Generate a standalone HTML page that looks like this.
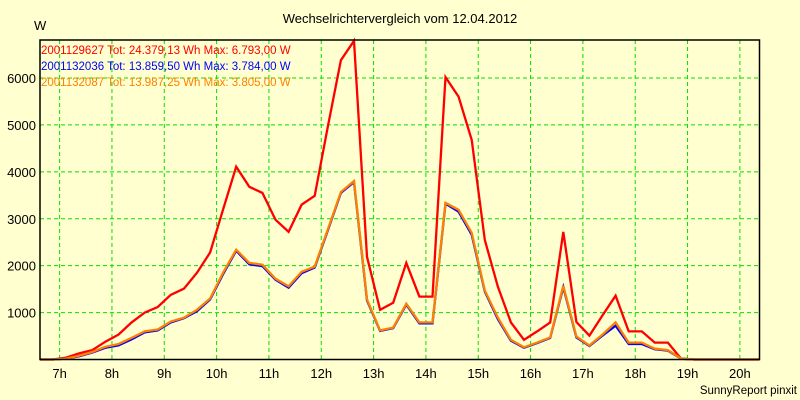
<!DOCTYPE html>
<html><head><meta charset="utf-8"><style>
body{margin:0;background:#ffffd0;}
svg{display:block;font-family:"Liberation Sans",sans-serif;}
</style></head><body>
<svg id="chart" width="800" height="400" viewBox="0 0 800 400">
<rect x="0" y="0" width="800" height="400" fill="#ffffd0"/>
<text x="400" y="23" font-size="13" text-anchor="middle" fill="#000">Wechselrichtervergleich vom 12.04.2012</text>
<text x="34" y="30" font-size="13" fill="#000">W</text>
<g id="grid"></g>
<g id="yticks"></g>
<g id="xticks"></g>
<g id="series"></g>
<rect x="40" y="40" width="719.5" height="319.5" fill="none" stroke="#000" stroke-width="1.5"/>
<g font-size="11.5">
<text x="41" y="54" fill="#ff0000">2001129627 Tot: 24.379,13 Wh Max: 6.793,00 W</text>
<text x="41" y="70" fill="#0000ff">2001132036 Tot: 13.859,50 Wh Max: 3.784,00 W</text>
<text x="41" y="86" fill="#ff8000">2001132087 Tot: 13.987,25 Wh Max: 3.805,00 W</text>
</g>
<text x="797" y="394" font-size="11.5" text-anchor="end" fill="#000">SunnyReport pinxit</text>
</svg>
<script>
const xTickLabels=["7h","8h","9h","10h","11h","12h","13h","14h","15h","16h","17h","18h","19h","20h"];
const xTickHours=[7,8,9,10,11,12,13,14,15,16,17,18,19,20];
const yTickValues=[1000,2000,3000,4000,5000,6000];
const startHour=6.625;
const stepHours=0.25;
const redValues=[0,0,40,130,200,380,530,790,1000,1120,1380,1510,1850,2280,3200,4110,3680,3550,2980,2720,3300,3490,4960,6380,6793,2190,1060,1210,2060,1340,1340,6020,5600,4680,2550,1550,790,420,600,790,2720,800,510,940,1360,600,600,360,360,20,0,0,0,0,0,0];
const blueValues=[0,0,20,70,150,250,300,430,580,620,790,880,1030,1280,1820,2320,2030,1990,1700,1530,1840,1960,2750,3550,3784,1260,610,670,1170,770,770,3320,3150,2660,1450,860,400,250,350,460,1540,470,290,510,720,330,330,220,190,20,0,0,0,0,0,0];
const orangeValues=[0,0,20,80,160,270,330,460,600,640,810,890,1060,1300,1850,2340,2060,2020,1720,1560,1870,1980,2770,3570,3805,1280,620,680,1190,790,790,3340,3190,2700,1470,890,420,260,360,470,1570,490,300,530,790,360,360,230,200,20,0,0,0,0,0,0];
const X0=40,X1=759.5,Y0=359.5,Y1=40,TMIN=6.625,TMAX=20.375,VMAX=6810;
const ns="http://www.w3.org/2000/svg";
function xs(t){return X0+(t-TMIN)/(TMAX-TMIN)*(X1-X0);}
function ys(v){return Y0-v/VMAX*(Y0-Y1);}
function mk(tag,attrs,parent){const e=document.createElementNS(ns,tag);for(const k in attrs)e.setAttribute(k,attrs[k]);parent.appendChild(e);return e;}
const grid=document.getElementById('grid'),yt=document.getElementById('yticks'),xt=document.getElementById('xticks'),sg=document.getElementById('series');
yTickValues.forEach(v=>{
  const l=mk('line',{x1:X0,x2:X1,y1:ys(v),y2:ys(v),stroke:'#00e000','stroke-dasharray':'4,3'},grid);
  
  
  const t=mk('text',{x:36,y:ys(v)+5,'font-size':13,'text-anchor':'end',fill:'#000'},yt);
  t.textContent=v;
  
  
});
xTickHours.forEach((h,i)=>{
  const l=mk('line',{x1:xs(h),x2:xs(h),y1:Y1,y2:Y0,stroke:'#00e000','stroke-dasharray':'4,3'},grid);
  
  
  const t=mk('text',{x:xs(h),y:378,'font-size':13,'text-anchor':'middle',fill:'#000'},xt);
  t.textContent=xTickLabels[i];
  
  
});
function draw(vals,color,name){
  const pts=vals.map((v,i)=>xs(startHour+i*stepHours).toFixed(1)+','+ys(v).toFixed(1)).join(' ');
  const p=mk('polyline',{points:pts,fill:'none',stroke:color,'stroke-width':2.3,'stroke-linejoin':'miter'},sg);
  
  
}
draw(redValues,'#ff0000','series-2001129627');
draw(blueValues,'#0000ff','series-2001132036');
draw(orangeValues,'#ff8000','series-2001132087');
</script>
</body></html>
